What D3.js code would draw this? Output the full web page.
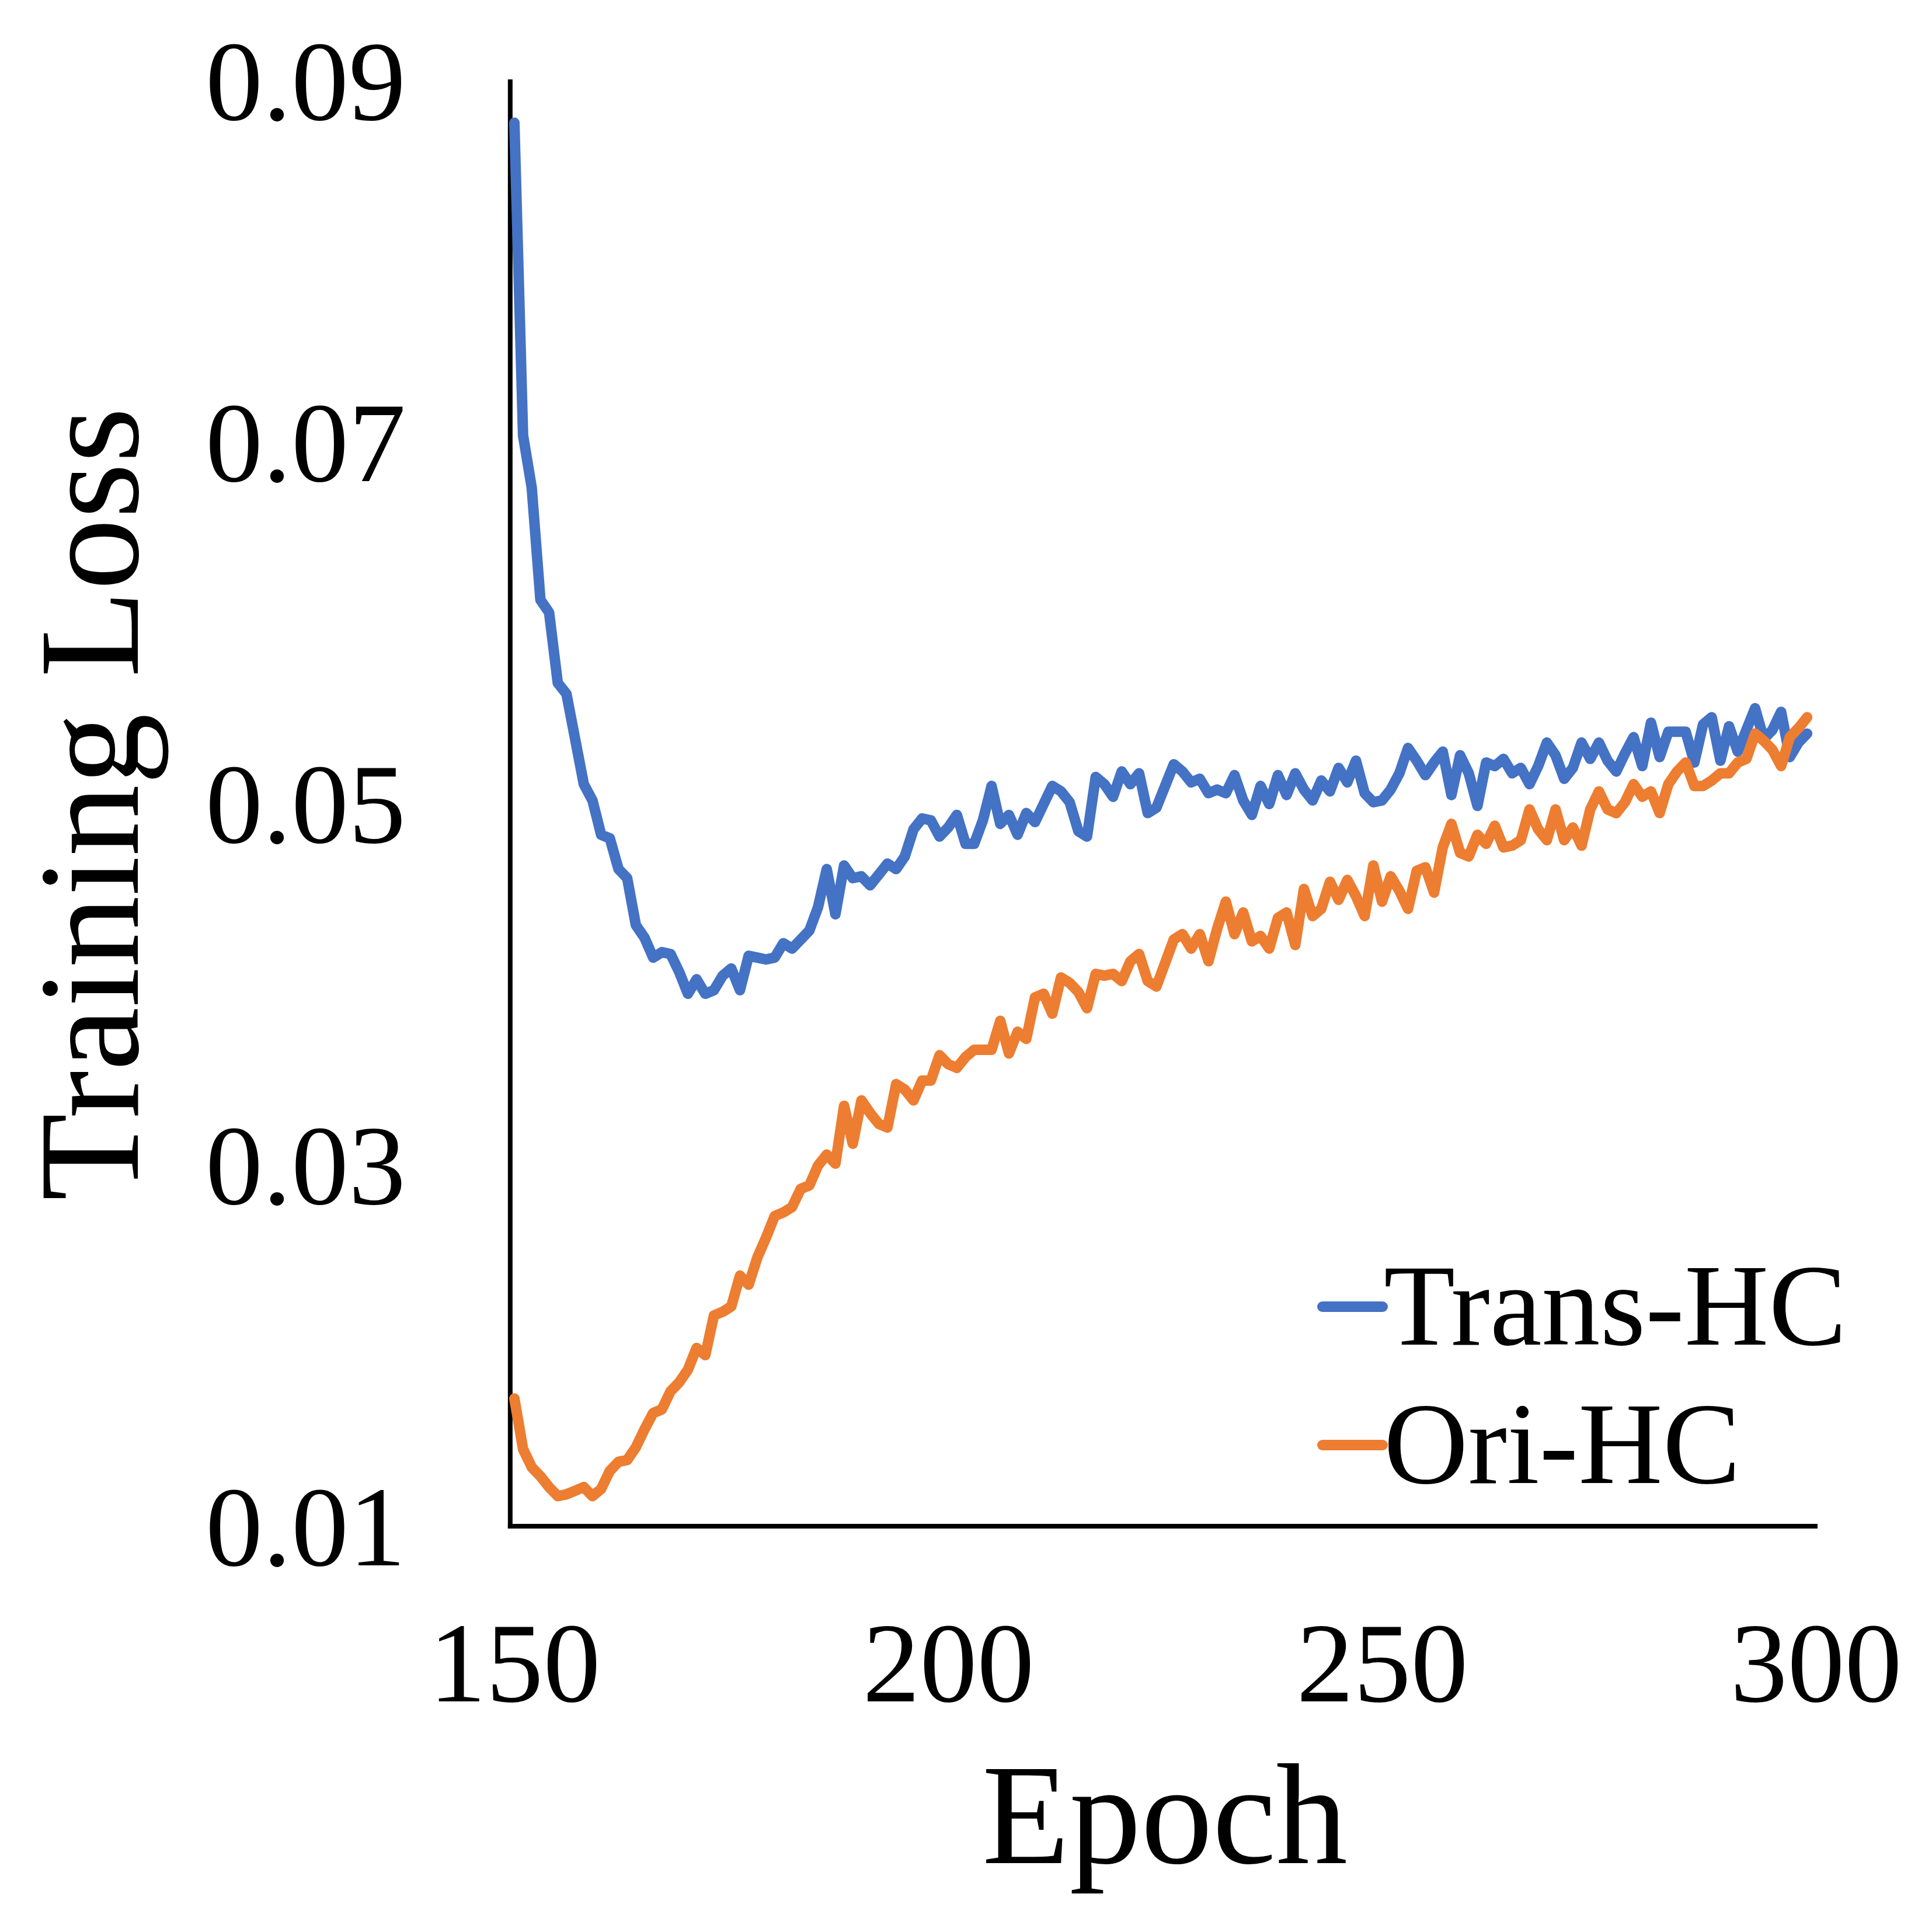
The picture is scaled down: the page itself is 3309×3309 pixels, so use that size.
<!DOCTYPE html>
<html>
<head>
<meta charset="utf-8">
<script src="https://cdn.jsdelivr.net/npm/d3@7"></script>
<style>
  html, body { margin: 0; padding: 0; background: #fff; }
  svg { display: block; }
  text { font-family: "Liberation Serif", "Times New Roman", serif; fill: #000; }
</style>
</head>
<body>
<svg id="chart" width="3309" height="3309"></svg>
<script>
// ---- data ----
const epochStart = 150;           // first epoch plotted
const seriesNames = ["Trans-HC", "Ori-HC"];
const seriesColors = ["#4472C4", "#ED7D31"];

const transHC = [
  0.0876, 0.0703, 0.0674, 0.0612, 0.0605, 0.0566, 0.0560, 0.0535, 0.0510, 0.0501,
  0.0482, 0.0480, 0.0463, 0.0458, 0.0432, 0.0425, 0.0414, 0.0417, 0.0416, 0.0406,
  0.0394, 0.0402, 0.0394, 0.0396, 0.0404, 0.0408, 0.0396, 0.0415, 0.0414, 0.0413,
  0.0414, 0.0422, 0.0419, 0.0424, 0.0429, 0.0442, 0.0463, 0.0438, 0.0465, 0.0458,
  0.0459, 0.0454, 0.0460, 0.0466, 0.0463, 0.0470, 0.0485, 0.0491, 0.0490, 0.0481,
  0.0486, 0.0493, 0.0477, 0.0477, 0.0490, 0.0509, 0.0488, 0.0493, 0.0482, 0.0494,
  0.0489, 0.0499, 0.0509, 0.0506, 0.0500, 0.0484, 0.0481, 0.0514, 0.0510, 0.0503,
  0.0517, 0.0510, 0.0516, 0.0494, 0.0497, 0.0509, 0.0521, 0.0517, 0.0511, 0.0513,
  0.0505, 0.0507, 0.0505, 0.0515, 0.0501, 0.0493, 0.0509, 0.0499, 0.0515, 0.0504,
  0.0516, 0.0507, 0.0501, 0.0512, 0.0506, 0.0519, 0.0511, 0.0523, 0.0505, 0.0500,
  0.0501, 0.0507, 0.0516, 0.0530, 0.0523, 0.0515, 0.0522, 0.0528, 0.0504, 0.0526,
  0.0516, 0.0498, 0.0522, 0.0520, 0.0524, 0.0516, 0.0519, 0.0510, 0.0520, 0.0533,
  0.0526, 0.0513, 0.0519, 0.0533, 0.0524, 0.0533, 0.0523, 0.0517, 0.0527, 0.0536,
  0.0520, 0.0544, 0.0525, 0.0539, 0.0539, 0.0539, 0.0522, 0.0543, 0.0547, 0.0523,
  0.0542, 0.0528, 0.0540, 0.0552, 0.0535, 0.0540, 0.0550, 0.0525, 0.0533, 0.0538
];

const oriHC = [
  0.0170, 0.0142, 0.0132, 0.0127, 0.0121, 0.0116, 0.0117, 0.0119, 0.0121, 0.0116,
  0.0120, 0.0130, 0.0135, 0.0136, 0.0143, 0.0153, 0.0162, 0.0164, 0.0174, 0.0179,
  0.0186, 0.0198, 0.0194, 0.0216, 0.0218, 0.0221, 0.0238, 0.0233, 0.0248, 0.0259,
  0.0271, 0.0273, 0.0276, 0.0286, 0.0288, 0.0299, 0.0305, 0.0300, 0.0332, 0.0311,
  0.0335, 0.0328, 0.0322, 0.0320, 0.0344, 0.0341, 0.0335, 0.0346, 0.0346, 0.0360,
  0.0355, 0.0353, 0.0359, 0.0363, 0.0363, 0.0363, 0.0379, 0.0361, 0.0373, 0.0369,
  0.0392, 0.0394, 0.0383, 0.0403, 0.0400, 0.0395, 0.0386, 0.0405, 0.0404, 0.0405,
  0.0401, 0.0412, 0.0416, 0.0401, 0.0398, 0.0411, 0.0424, 0.0427, 0.0419, 0.0427,
  0.0412, 0.0430, 0.0445, 0.0427, 0.0439, 0.0423, 0.0426, 0.0419, 0.0436, 0.0439,
  0.0421, 0.0452, 0.0437, 0.0441, 0.0456, 0.0446, 0.0457, 0.0448, 0.0437, 0.0465,
  0.0445, 0.0459, 0.0451, 0.0441, 0.0462, 0.0464, 0.0450, 0.0475, 0.0488, 0.0472,
  0.0470, 0.0482, 0.0477, 0.0487, 0.0475, 0.0476, 0.0479, 0.0496, 0.0485, 0.0479,
  0.0496, 0.0479, 0.0486, 0.0476, 0.0496, 0.0506, 0.0496, 0.0494, 0.0500, 0.0510,
  0.0503, 0.0506, 0.0494, 0.0510, 0.0517, 0.0522, 0.0509, 0.0509, 0.0512, 0.0516,
  0.0516, 0.0522, 0.0524, 0.0538, 0.0534, 0.0529, 0.0520, 0.0536, 0.0541, 0.0547
];

const xTickValues = [150, 200, 250, 300];
const yTickValues = [0.01, 0.03, 0.05, 0.07, 0.09];
const xDomain = [150, 300];
const yDomain = [0.01, 0.09];

// ---- drawing ----
const svg = d3.select("#chart");

const x = d3.scaleLinear().domain(xDomain).range([881, 3110]);
const y = d3.scaleLinear().domain(yDomain).range([2612, 136]);

const series = [transHC, oriHC].map((vals, k) => ({
  name: seriesNames[k],
  color: seriesColors[k],
  points: vals.map((v, i) => ({ epoch: epochStart + i, value: v }))
}));

// axis lines
const axisColor = "#000";
svg.append("line")
  .attr("x1", x(149.52)).attr("x2", x(149.52))
  .attr("y1", y(0.09)).attr("y2", y(0.01) + 6)
  .attr("stroke", axisColor).attr("stroke-width", 8);
svg.append("line")
  .attr("x1", x(149.52) - 4).attr("x2", x(300.2))
  .attr("y1", y(0.01) + 2).attr("y2", y(0.01) + 2)
  .attr("stroke", axisColor).attr("stroke-width", 8);

// y tick labels
const yAxis = d3.axisLeft(y)
  .tickValues(yTickValues)
  .tickSize(0)
  .tickPadding(0)
  .tickFormat(d3.format(".2f"));
const gy = svg.append("g").attr("transform", "translate(695,0)").call(yAxis);
gy.select(".domain").remove();
gy.selectAll("text")
  .attr("x", 0).attr("dy", "0.35em")
  .style("font-family", '"Liberation Serif", "Times New Roman", serif')
  .style("font-size", "196px")
  .attr("fill", "#000");

// x tick labels
const xAxis = d3.axisBottom(x)
  .tickValues(xTickValues)
  .tickSize(0)
  .tickPadding(0)
  .tickFormat(d3.format("d"));
const gx = svg.append("g").attr("transform", "translate(0,2914)").call(xAxis);
gx.select(".domain").remove();
gx.selectAll("text")
  .attr("y", 0).attr("dy", "0")
  .style("font-family", '"Liberation Serif", "Times New Roman", serif')
  .style("font-size", "196px")
  .attr("fill", "#000");

// axis titles
svg.append("text")
  .attr("x", 1995).attr("y", 3191)
  .attr("text-anchor", "middle")
  .style("font-size", "245px")
  .text("Epoch");
svg.append("text")
  .attr("transform", "translate(236,1377) rotate(-90)")
  .attr("text-anchor", "middle")
  .style("font-size", "245px")
  .text("Training Loss");

// lines
const line = d3.line()
  .x(d => x(d.epoch))
  .y(d => y(d.value));

svg.append("g").selectAll("path")
  .data(series)
  .join("path")
  .attr("d", d => line(d.points))
  .attr("fill", "none")
  .attr("stroke", d => d.color)
  .attr("stroke-width", 18)
  .attr("stroke-linejoin", "round")
  .attr("stroke-linecap", "round");

// legend
const legend = svg.append("g").attr("transform", "translate(2265,2238)");
const item = legend.selectAll("g")
  .data(series)
  .join("g")
  .attr("transform", (d, i) => `translate(0,${i * 237})`);
item.append("line")
  .attr("x1", 0).attr("x2", 103)
  .attr("y1", 0).attr("y2", 0)
  .attr("stroke", d => d.color)
  .attr("stroke-width", 18)
  .attr("stroke-linecap", "round");
item.append("text")
  .attr("x", 105).attr("y", 65)
  .style("font-size", "200px")
  .text(d => d.name);
</script>
</body>
</html>
